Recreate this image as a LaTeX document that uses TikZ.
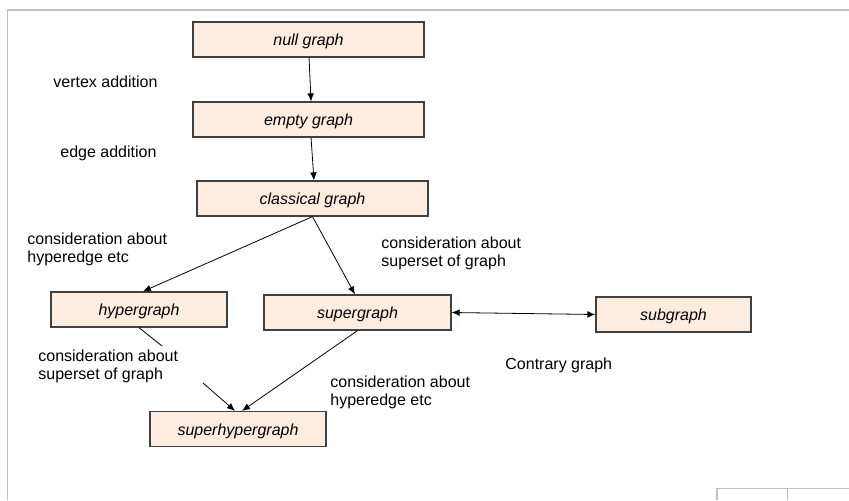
\documentclass[tikz,border=0pt]{standalone}
\usepackage{fontspec}
\setmainfont{Liberation Sans}
\usetikzlibrary{arrows.meta}
\definecolor{boxfill}{RGB}{253,236,224}
\definecolor{boxline}{RGB}{64,64,64}
\definecolor{framegray}{RGB}{192,192,192}
\tikzset{
  gbox/.style={draw=boxline, fill=boxfill, line width=0.9pt, inner sep=0pt,
    minimum height=26.25pt, text height=10.5pt, text depth=1.5pt,
    font=\fontsize{12}{13.5}\selectfont\itshape},
  lbl/.style={anchor=west, inner sep=0pt, align=left, font=\fontsize{12}{13.5}\selectfont}
}
\begin{document}
\begin{tikzpicture}[x=0.75pt,y=-0.75pt,>={Latex[length=6pt,width=5pt]},line width=0.6pt]
\useasboundingbox (0,0) rectangle (849,500);
\draw[framegray,line width=1.1pt] (7.5,500)--(7.5,10)--(849,10);
\draw[framegray,line width=1.1pt] (717,500)--(717,488.5)--(849,488.5);
\draw[framegray,line width=1.1pt] (787.5,488.5)--(787.5,500);
\node[gbox,minimum width=173.25pt] (null) at (308.5,39.5) {null graph};
\node[gbox,minimum width=173.25pt] (empty) at (308.5,119.5) {empty graph};
\node[gbox,minimum width=173.25pt] (classical) at (312.5,198.5) {classical graph};
\node[gbox,minimum width=132pt] (hyper) at (139,309.5) {hypergraph};
\node[gbox,minimum width=140.25pt] (super) at (357.5,312.5) {supergraph};
\node[gbox,minimum width=116.25pt] (sub) at (673.5,314.5) {subgraph};
\node[gbox,minimum width=132pt] (shg) at (238,429) {superhypergraph};
\node[lbl] (va) at (53,82) {vertex addition};
\node[lbl] (ea) at (60,153) {edge addition};
\node[lbl] (ch1) at (27,249) {consideration about\\hyperedge etc};
\node[lbl] (cs1) at (381,253.5) {consideration about\\superset of graph};
\node[lbl] (cs2) at (38,366) {consideration about\\superset of graph};
\node[lbl] (cg) at (505,365) {Contrary graph};
\node[lbl] (ch2) at (330,392.5) {consideration about\\hyperedge etc};
\coordinate (hs) at (162,346);
\coordinate (he) at (203,383);
\draw[->] ([xshift=0.4pt]null.south) -- ([xshift=1.9pt]empty.north);
\draw[->] ([xshift=1.9pt]empty.south) -- ([xshift=1.1pt]classical.north);
\draw[->] (classical.south) -- ([xshift=3pt]hyper.north);
\draw[->] (classical.south) -- ([xshift=-1.9pt]super.north);
\draw[->] (super.south) -- ([xshift=3pt]shg.north);
\draw (hyper.south) -- (hs);
\draw[->] (he) -- ([xshift=-2.25pt]shg.north);
\draw[<->] (super.east) -- (sub.west);
\end{tikzpicture}
\end{document}
